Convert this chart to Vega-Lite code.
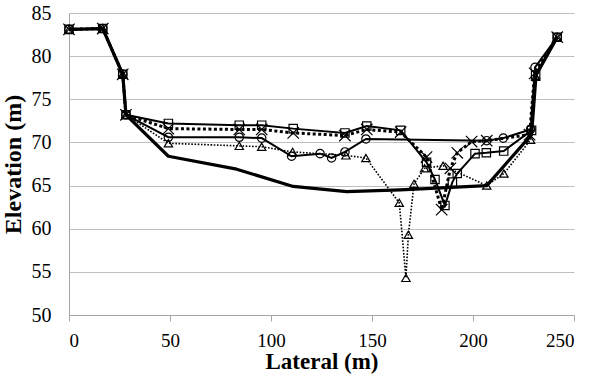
{
  "$schema": "https://vega.github.io/schema/vega-lite/v6.json",
  "autosize": "none",
  "width": 505,
  "height": 302,
  "padding": {"left": 69, "top": 13, "right": 23, "bottom": 60},
  "background": "white",
  "config": {"font": "Liberation Serif", "view": {"stroke": null}, "axis": {"labelFont": "Liberation Serif", "titleFont": "Liberation Serif"}},
  "datasets": {
    "thick": [
      {"x": 0, "y": 83.1}, {"x": 16.7, "y": 83.2}, {"x": 26.6, "y": 77.9}, {"x": 28.2, "y": 73.2},
      {"x": 49.2, "y": 68.4}, {"x": 83, "y": 66.9}, {"x": 111, "y": 64.9}, {"x": 137.5, "y": 64.3},
      {"x": 164, "y": 64.5}, {"x": 206.8, "y": 65.0}, {"x": 229, "y": 70.9}, {"x": 231.2, "y": 77.8},
      {"x": 241.7, "y": 82.2}
    ],
    "squares": [
      {"x": 0, "y": 83.1}, {"x": 16.7, "y": 83.2}, {"x": 26.6, "y": 77.9}, {"x": 28.2, "y": 73.2},
      {"x": 49.2, "y": 72.2}, {"x": 84.3, "y": 72.0}, {"x": 95.4, "y": 72.0}, {"x": 111, "y": 71.6},
      {"x": 136.6, "y": 71.1}, {"x": 147.4, "y": 71.9}, {"x": 164.2, "y": 71.4}, {"x": 177, "y": 67.7},
      {"x": 181.2, "y": 65.7}, {"x": 186.1, "y": 62.7}, {"x": 189.8, "y": 65.4}, {"x": 192.2, "y": 66.4},
      {"x": 201, "y": 68.7}, {"x": 206.6, "y": 68.8}, {"x": 215.2, "y": 69.0}, {"x": 229, "y": 71.4},
      {"x": 231, "y": 77.8}, {"x": 241.7, "y": 82.2}
    ],
    "crosses": [
      {"x": 0, "y": 83.1}, {"x": 16.7, "y": 83.2}, {"x": 26.6, "y": 77.9}, {"x": 28.2, "y": 73.2},
      {"x": 49.2, "y": 71.6}, {"x": 84.3, "y": 71.5}, {"x": 95.4, "y": 71.5}, {"x": 111, "y": 71.1},
      {"x": 136.6, "y": 70.8}, {"x": 147.4, "y": 71.5}, {"x": 164.2, "y": 71.2}, {"x": 177, "y": 68.3},
      {"x": 184.5, "y": 62.2}, {"x": 188.8, "y": 67.0}, {"x": 192.2, "y": 68.8}, {"x": 199.3, "y": 70.1},
      {"x": 206.8, "y": 70.2}, {"x": 228, "y": 70.9}, {"x": 230.5, "y": 78.0}, {"x": 241.7, "y": 82.2}
    ],
    "circles": [
      {"x": 0, "y": 83.1}, {"x": 16.7, "y": 83.2}, {"x": 26.6, "y": 77.9}, {"x": 28.2, "y": 73.2},
      {"x": 49.2, "y": 70.6}, {"x": 84.3, "y": 70.6}, {"x": 95.4, "y": 70.5}, {"x": 110.2, "y": 68.4},
      {"x": 124.3, "y": 68.7}, {"x": 130, "y": 68.2}, {"x": 136.6, "y": 68.9}, {"x": 147, "y": 70.4},
      {"x": 206.8, "y": 70.2}, {"x": 215, "y": 70.5}, {"x": 228.5, "y": 71.5}, {"x": 230.7, "y": 78.7},
      {"x": 241.7, "y": 82.2}
    ],
    "triangles": [
      {"x": 0, "y": 83.1}, {"x": 16.7, "y": 83.2}, {"x": 26.6, "y": 77.9}, {"x": 28.2, "y": 73.2},
      {"x": 49.2, "y": 69.9}, {"x": 84.3, "y": 69.6}, {"x": 95.4, "y": 69.5}, {"x": 110.7, "y": 68.9},
      {"x": 137.1, "y": 68.5}, {"x": 147, "y": 68.2}, {"x": 163.5, "y": 63.0}, {"x": 166.8, "y": 54.3},
      {"x": 168, "y": 59.3}, {"x": 170.8, "y": 65.2}, {"x": 176, "y": 67.0}, {"x": 185.2, "y": 67.3},
      {"x": 206.8, "y": 65.0}, {"x": 215.3, "y": 66.4}, {"x": 228.5, "y": 70.3}, {"x": 231, "y": 77.6},
      {"x": 241.7, "y": 82.2}
    ]
  },
  "encoding": {
    "x": {
      "field": "x", "type": "quantitative",
      "scale": {"domain": [0, 250], "nice": false},
      "axis": {
        "title": "Lateral (m)", "values": [0, 50, 100, 150, 200, 250], "grid": false, "format": "d",
        "domainColor": "#a6a6a6", "tickColor": "#a6a6a6", "tickSize": 6,
        "labelFont": "Times New Roman, Liberation Serif, serif", "titleFont": "Times New Roman, Liberation Serif, serif",
        "labelFontSize": 19, "labelPadding": 10, "labelColor": "black",
        "titleFontSize": 23, "titleFontWeight": "bold", "titleColor": "black", "titlePadding": 0
      }
    },
    "y": {
      "field": "y", "type": "quantitative",
      "scale": {"domain": [50, 85], "nice": false, "zero": false},
      "axis": {
        "title": "Elevation (m)", "values": [50, 55, 60, 65, 70, 75, 80, 85], "grid": true, "format": "d",
        "gridColor": "#bfbfbf", "gridWidth": 1, "ticks": false, "domainColor": "#a6a6a6",
        "labelFont": "Times New Roman, Liberation Serif, serif", "titleFont": "Times New Roman, Liberation Serif, serif",
        "labelFontSize": 20, "labelPadding": 18, "labelColor": "black",
        "titleFontSize": 24, "titleFontWeight": "bold", "titleColor": "black", "titlePadding": 6
      }
    }
  },
  "layer": [
    {"data": {"name": "thick"}, "mark": {"type": "line", "color": "black", "strokeWidth": 3.2, "strokeJoin": "round"}},
    {"data": {"name": "triangles"}, "mark": {"type": "line", "color": "black", "strokeWidth": 1.6, "strokeDash": [1.6, 1.6]}},
    {"data": {"name": "triangles"}, "mark": {"type": "point", "shape": "triangle-up", "filled": false, "color": "black", "size": 70, "strokeWidth": 1.2, "opacity": 1}},
    {"data": {"name": "circles"}, "mark": {"type": "line", "color": "black", "strokeWidth": 2}},
    {"data": {"name": "circles"}, "mark": {"type": "point", "shape": "circle", "filled": false, "color": "black", "size": 70, "strokeWidth": 1.2, "opacity": 1}},
    {"data": {"name": "crosses"}, "mark": {"type": "line", "color": "black", "strokeWidth": 3, "strokeDash": [3, 2.5]}},
    {"data": {"name": "crosses"}, "mark": {"type": "point", "shape": "M-1,-1L1,1M-1,1L1,-1", "filled": false, "color": "black", "size": 130, "strokeWidth": 1.2, "opacity": 1}},
    {"data": {"name": "squares"}, "mark": {"type": "line", "color": "black", "strokeWidth": 2}},
    {"data": {"name": "squares"}, "mark": {"type": "point", "shape": "square", "filled": false, "color": "black", "size": 70, "strokeWidth": 1.2, "opacity": 1}}
  ]
}
